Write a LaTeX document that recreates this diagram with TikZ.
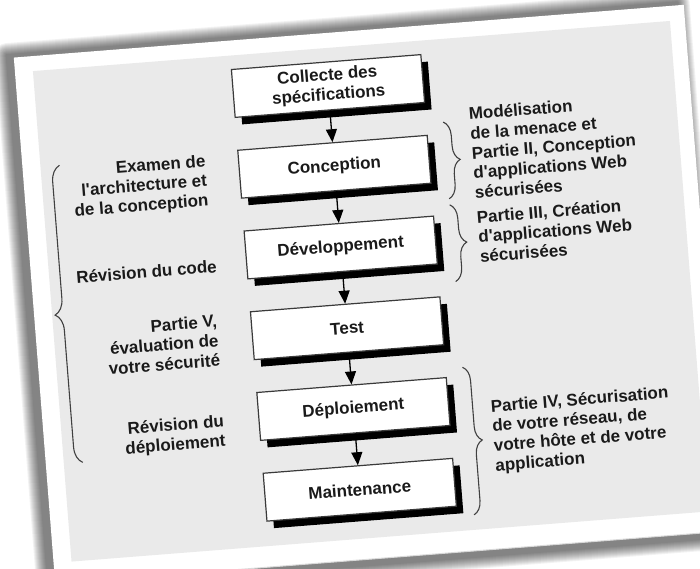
\documentclass[tikz,border=0pt]{standalone}
\usepackage{fontspec}
\setmainfont{Liberation Sans}
\usetikzlibrary{decorations.pathreplacing,arrows.meta,shadows}
\definecolor{ink}{HTML}{1A1A1A}
\definecolor{panel}{HTML}{EAEAEA}
\definecolor{frame}{HTML}{3A3A3A}
\definecolor{bracecol}{HTML}{404040}

\begin{document}
\begin{tikzpicture}[x=1pt,y=1pt,
  txt/.style={font=\bfseries\fontsize{17}{19.7}\selectfont, text=ink},
  stage/.style={txt, draw=frame, line width=1.2pt, fill=white,
    minimum width=190pt, minimum height=48pt, inner sep=0pt, align=center,
    drop shadow={shadow xshift=7pt, shadow yshift=-7pt, opacity=1, fill=black}},
  leftnote/.style={txt, inner sep=0pt, align=right, anchor=east},
  rightnote/.style={txt, inner sep=0pt, align=left, anchor=west},
  flow/.style={-{Triangle[length=13pt,width=11pt]}, line width=1.3pt, draw=black},
  curly/.style={decorate, decoration={brace, amplitude=#1}, draw=bracecol, line width=1.1pt},
  curly/.default=14pt]
\useasboundingbox (0,0) rectangle (700,-569);
\fill[white] (0,0) rectangle (700,-569);

\begin{scope}[shift={(328,-86)}, rotate=4.5, transform shape]
  % soft shadow cast by the sheet
  \foreach \r in {1,...,12}
    \fill[black, opacity=0.05, rounded corners=\r pt]
      (-318-\r, -481-\r) rectangle (355+\r, 56+\r);
  % sheet and grey panel
  \fill[white] (-311,-475) rectangle (361,53);
  \draw[black!15, line width=1pt] (-311,-475) -- (361,-475);
  \fill[panel] (-293,-454) rectangle (346,38);

  % process stages
  \node[stage] (s1) at (0,0)    {Collecte des\\spécifications};
  \node[stage] (s2) at (0,-81)  {Conception};
  \node[stage] (s3) at (0,-162) {Développement};
  \node[stage] (s4) at (0,-243) {Test};
  \node[stage] (s5) at (0,-324) {Déploiement};
  \node[stage] (s6) at (0,-405) {Maintenance};

  \draw[flow] (s1.south) -- (s2.north);
  \draw[flow] (s2.south) -- (s3.north);
  \draw[flow] (s3.south) -- (s4.north);
  \draw[flow] (s4.south) -- (s5.north);
  \draw[flow] (s5.south) -- (s6.north);

  % reviews on the left
  \node[leftnote] (l1) at (-128,-86)  {Examen de\\l\textquotesingle architecture et\\de la conception};
  \node[leftnote] (l2) at (-125,-171) {Révision du code};
  \node[leftnote] (l3) at (-129,-245) {Partie V,\\évaluation de\\votre sécurité};
  \node[leftnote] (l4) at (-130,-337) {Révision du\\déploiement};
  \coordinate (lb1) at (-274,-356);
  \coordinate (lb2) at (-274,-58);
  \draw[curly=16pt] (lb1) -- (lb2);

  % book parts on the right
  \coordinate (ra1) at (112,-45);
  \coordinate (ra2) at (112,-122);
  \coordinate (rb1) at (112,-128);
  \coordinate (rb2) at (112,-205);
  \coordinate (rc1) at (112,-291);
  \coordinate (rc2) at (112,-439);
  \draw[curly] (ra1) -- (ra2);
  \draw[curly] (rb1) -- (rb2);
  \draw[curly] (rc1) -- (rc2);
  \node[rightnote] (r1) at (138,-78)
    {Modélisation\\de la menace et\\Partie II, Conception\\d\textquotesingle applications Web\\sécurisées};
  \node[rightnote] (r2) at (138,-162)
    {Partie III, Création\\d\textquotesingle applications Web\\sécurisées};
  \node[rightnote] (r3) at (137,-363)
    {Partie IV, Sécurisation\\de votre réseau, de\\votre hôte et de votre\\application};
\end{scope}
\end{tikzpicture}
\end{document}
